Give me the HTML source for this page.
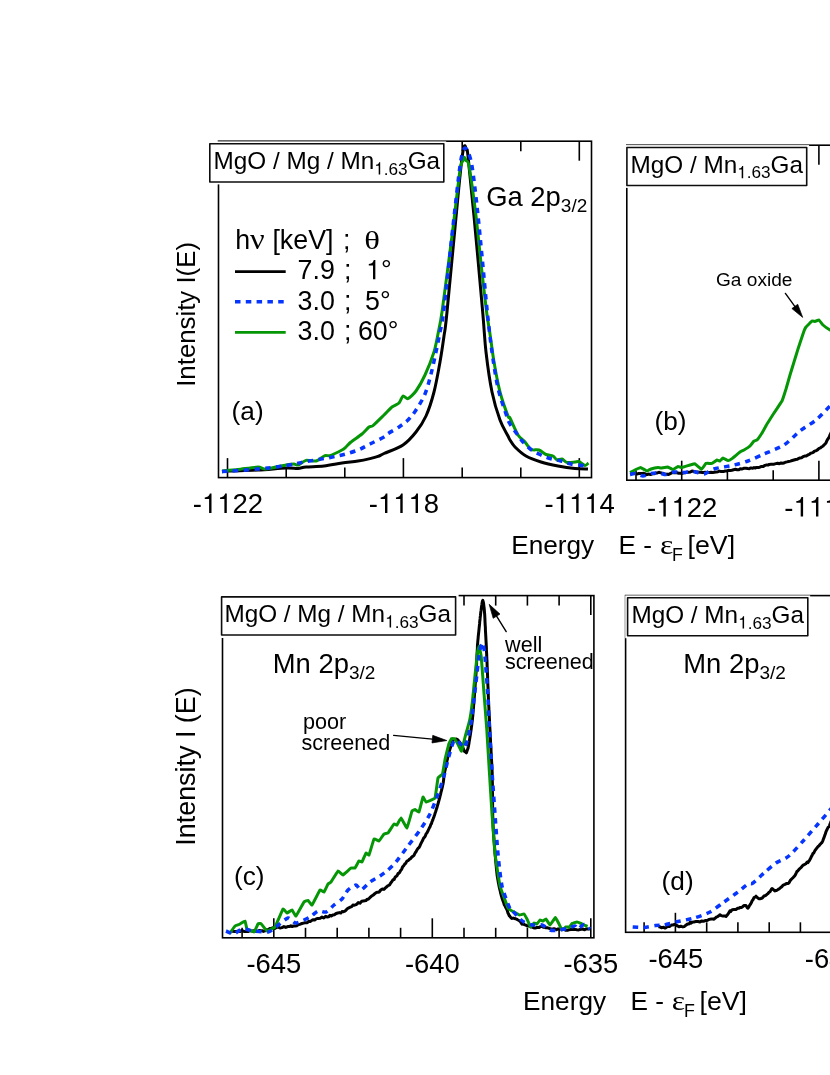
<!DOCTYPE html>
<html><head><meta charset="utf-8"><title>XPS spectra</title>
<style>
html,body{margin:0;padding:0;background:#fff;}
body{width:830px;height:1075px;overflow:hidden;}
svg{display:block;font-family:"Liberation Sans",sans-serif;fill:#000;will-change:transform;}
</style></head><body>
<svg width="830" height="1075" viewBox="0 0 830 1075">
<rect x="0" y="0" width="830" height="1075" fill="#fff"/>
<g>
<rect x="218.5" y="141.2" width="373.0" height="336.4" fill="none" stroke="#000" stroke-width="1.6"/>
<line x1="227.5" y1="141.2" x2="227.5" y2="160.7" stroke="#000" stroke-width="1.6"/>
<line x1="227.5" y1="477.6" x2="227.5" y2="458.1" stroke="#000" stroke-width="1.6"/>
<line x1="403.4" y1="141.2" x2="403.4" y2="160.7" stroke="#000" stroke-width="1.6"/>
<line x1="403.4" y1="477.6" x2="403.4" y2="458.1" stroke="#000" stroke-width="1.6"/>
<line x1="579.3" y1="141.2" x2="579.3" y2="160.7" stroke="#000" stroke-width="1.6"/>
<line x1="579.3" y1="477.6" x2="579.3" y2="458.1" stroke="#000" stroke-width="1.6"/>
<line x1="286.2" y1="141.2" x2="286.2" y2="151.2" stroke="#000" stroke-width="1.6"/>
<line x1="286.2" y1="477.6" x2="286.2" y2="467.6" stroke="#000" stroke-width="1.6"/>
<line x1="344.8" y1="141.2" x2="344.8" y2="151.2" stroke="#000" stroke-width="1.6"/>
<line x1="344.8" y1="477.6" x2="344.8" y2="467.6" stroke="#000" stroke-width="1.6"/>
<line x1="462.2" y1="141.2" x2="462.2" y2="151.2" stroke="#000" stroke-width="1.6"/>
<line x1="462.2" y1="477.6" x2="462.2" y2="467.6" stroke="#000" stroke-width="1.6"/>
<line x1="520.8" y1="141.2" x2="520.8" y2="151.2" stroke="#000" stroke-width="1.6"/>
<line x1="520.8" y1="477.6" x2="520.8" y2="467.6" stroke="#000" stroke-width="1.6"/>
<clipPath id="ca"><rect x="218.5" y="141.2" width="373.0" height="336.4"/></clipPath>
<g clip-path="url(#ca)">
<path d="M222.00,471.80 C223.00,471.67 222.00,471.30 228.00,471.00 C234.00,470.70 248.33,470.50 258.00,470.00 C267.67,469.50 279.33,468.27 286.00,468.00 C292.67,467.73 294.67,468.57 298.00,468.40 C301.33,468.23 301.67,467.40 306.00,467.00 C310.33,466.60 318.00,466.67 324.00,466.00 C330.00,465.33 336.33,463.83 342.00,463.00 C347.67,462.17 353.33,461.73 358.00,461.00 C362.67,460.27 366.67,459.37 370.00,458.60 C373.33,457.83 375.67,457.25 378.00,456.40 C380.33,455.55 379.83,455.40 384.00,453.50 C388.17,451.60 397.67,448.58 403.00,445.00 C408.33,441.42 412.17,436.83 416.00,432.00 C419.83,427.17 423.00,422.67 426.00,416.00 C429.00,409.33 431.67,401.00 434.00,392.00 C436.33,383.00 438.33,371.33 440.00,362.00 C441.67,352.67 442.83,344.33 444.00,336.00 C445.17,327.67 444.67,335.33 447.00,312.00 C449.33,288.67 455.50,221.67 458.00,196.00 C460.50,170.33 460.93,166.33 462.00,158.00 C463.07,149.67 463.65,147.33 464.40,146.00 C465.15,144.67 465.90,148.33 466.50,150.00 C467.10,151.67 466.75,145.00 468.00,156.00 C469.25,167.00 471.55,190.00 474.00,216.00 C476.45,242.00 480.70,289.33 482.70,312.00 C484.70,334.67 484.45,338.67 486.00,352.00 C487.55,365.33 489.67,380.67 492.00,392.00 C494.33,403.33 497.33,412.67 500.00,420.00 C502.67,427.33 506.33,432.67 508.00,436.00 C509.67,439.33 508.83,438.17 510.00,440.00 C511.17,441.83 512.33,444.33 515.00,447.00 C517.67,449.67 521.67,453.50 526.00,456.00 C530.33,458.50 535.67,460.33 541.00,462.00 C546.33,463.67 552.33,464.92 558.00,466.00 C563.67,467.08 570.00,468.00 575.00,468.50 C580.00,469.00 585.83,468.92 588.00,469.00" fill="none" stroke="#000" stroke-width="3.0" stroke-linejoin="round"/>
<path d="M222.00,471.00 C223.87,470.84 233.80,470.07 238.00,469.60 C242.20,469.13 254.73,467.07 258.00,467.00 C261.27,466.93 262.73,469.23 266.00,469.00 C269.27,468.77 282.73,465.58 286.00,465.00 C289.27,464.42 292.60,464.00 294.00,464.00 C295.40,464.00 296.60,465.42 298.00,465.00 C299.40,464.58 303.90,460.87 306.00,460.40 C308.10,459.93 313.78,461.56 316.00,461.00 C318.22,460.44 323.37,456.23 325.00,455.60 C326.63,454.97 328.02,456.25 330.00,455.60 C331.98,454.95 340.13,451.00 342.00,450.00 C343.87,449.00 344.95,447.93 346.00,447.00 C347.05,446.07 349.13,443.52 351.00,442.00 C352.87,440.48 359.90,435.75 362.00,434.00 C364.10,432.25 367.72,427.98 369.00,427.00 C370.28,426.02 371.25,427.00 373.00,425.60 C374.75,424.20 381.78,417.17 384.00,415.00 C386.22,412.83 390.25,408.40 392.00,407.00 C393.75,405.60 397.72,404.28 399.00,403.00 C400.28,401.72 401.95,396.51 403.00,396.00 C404.05,395.49 406.48,399.18 408.00,398.60 C409.52,398.02 414.02,393.75 416.00,391.00 C417.98,388.25 422.90,379.55 425.00,375.00 C427.10,370.45 432.48,356.78 434.00,352.00 C435.52,347.22 437.07,338.67 438.00,334.00 C438.93,329.33 440.37,323.43 442.00,312.00 C443.63,300.57 449.90,252.57 452.00,236.00 C454.10,219.43 458.72,178.81 460.00,170.00 C461.28,161.19 462.49,161.99 463.00,160.50 C463.51,159.01 464.05,157.20 464.40,157.20 C464.75,157.20 465.46,159.47 466.00,160.50 C466.54,161.53 467.83,159.53 469.00,166.00 C470.17,172.47 474.54,204.10 476.00,216.00 C477.46,227.90 480.26,256.80 481.50,268.00 C482.74,279.20 485.61,304.30 486.60,312.00 C487.59,319.70 489.14,328.17 490.00,334.00 C490.86,339.83 492.83,355.23 494.00,362.00 C495.17,368.77 498.37,385.70 500.00,392.00 C501.63,398.30 506.83,412.97 508.00,416.00 C509.17,419.03 508.83,415.78 510.00,418.00 C511.17,420.22 516.25,432.20 518.00,435.00 C519.75,437.80 523.48,440.31 525.00,442.00 C526.52,443.69 529.37,448.57 531.00,449.50 C532.63,450.43 537.25,449.42 539.00,450.00 C540.75,450.58 544.37,453.80 546.00,454.50 C547.63,455.20 551.72,455.36 553.00,456.00 C554.28,456.64 555.95,459.65 557.00,460.00 C558.05,460.35 560.83,458.71 562.00,459.00 C563.17,459.29 565.48,462.15 567.00,462.50 C568.52,462.85 573.60,462.12 575.00,462.00 C576.40,461.88 577.83,461.09 579.00,461.50 C580.17,461.91 583.89,465.32 585.00,465.50 C586.11,465.68 588.09,463.29 588.50,463.00" fill="none" stroke="#059605" stroke-width="3.0" stroke-linejoin="round"/>
<path d="M222.00,471.60 C228.00,471.17 247.33,470.00 258.00,469.00 C268.67,468.00 278.00,466.83 286.00,465.60 C294.00,464.37 299.50,462.80 306.00,461.60 C312.50,460.40 319.00,459.50 325.00,458.40 C331.00,457.30 336.50,456.40 342.00,455.00 C347.50,453.60 353.33,451.83 358.00,450.00 C362.67,448.17 365.67,446.17 370.00,444.00 C374.33,441.83 381.00,438.73 384.00,437.00 C387.00,435.27 385.50,435.27 388.00,433.60 C390.50,431.93 395.67,429.27 399.00,427.00 C402.33,424.73 405.17,422.83 408.00,420.00 C410.83,417.17 413.17,414.33 416.00,410.00 C418.83,405.67 422.50,400.00 425.00,394.00 C427.50,388.00 429.17,381.00 431.00,374.00 C432.83,367.00 434.50,359.00 436.00,352.00 C437.50,345.00 438.73,338.67 440.00,332.00 C441.27,325.33 441.43,329.67 443.60,312.00 C445.77,294.33 450.27,250.33 453.00,226.00 C455.73,201.67 458.33,178.33 460.00,166.00 C461.67,153.67 462.17,155.00 463.00,152.00 C463.83,149.00 464.17,148.00 465.00,148.00 C465.83,148.00 466.83,149.00 468.00,152.00 C469.17,155.00 470.50,157.00 472.00,166.00 C473.50,175.00 475.33,191.00 477.00,206.00 C478.67,221.00 480.28,238.33 482.00,256.00 C483.72,273.67 485.63,296.00 487.30,312.00 C488.97,328.00 490.22,339.33 492.00,352.00 C493.78,364.67 495.67,377.67 498.00,388.00 C500.33,398.33 504.00,408.00 506.00,414.00 C508.00,420.00 508.17,420.67 510.00,424.00 C511.83,427.33 514.83,431.00 517.00,434.00 C519.17,437.00 520.67,439.42 523.00,442.00 C525.33,444.58 528.17,447.42 531.00,449.50 C533.83,451.58 536.83,453.00 540.00,454.50 C543.17,456.00 546.50,457.42 550.00,458.50 C553.50,459.58 557.50,460.08 561.00,461.00 C564.50,461.92 567.33,463.25 571.00,464.00 C574.67,464.75 580.17,465.17 583.00,465.50 C585.83,465.83 587.17,465.92 588.00,466.00" fill="none" stroke="#0535ff" stroke-width="3.5" stroke-linejoin="round" stroke-dasharray="5.5 5.3"/>
</g>
<rect x="207.40" y="141.40" width="238.80" height="43.00" fill="#fff"/>
<rect x="209.80" y="143.80" width="234.00" height="38.20" fill="#fff" stroke="#0d0d0d" stroke-width="1.6" stroke-linejoin="round"/>
</g>
<rect x="626.8" y="145.2" width="273.2" height="335.0" fill="none" stroke="#000" stroke-width="1.6"/>
<line x1="681.7" y1="145.2" x2="681.7" y2="164.7" stroke="#000" stroke-width="1.6"/>
<line x1="681.7" y1="480.2" x2="681.7" y2="460.7" stroke="#000" stroke-width="1.6"/>
<line x1="818.9" y1="145.2" x2="818.9" y2="164.7" stroke="#000" stroke-width="1.6"/>
<line x1="818.9" y1="480.2" x2="818.9" y2="460.7" stroke="#000" stroke-width="1.6"/>
<line x1="636.0" y1="145.2" x2="636.0" y2="155.2" stroke="#000" stroke-width="1.6"/>
<line x1="636.0" y1="480.2" x2="636.0" y2="470.2" stroke="#000" stroke-width="1.6"/>
<line x1="727.4" y1="145.2" x2="727.4" y2="155.2" stroke="#000" stroke-width="1.6"/>
<line x1="727.4" y1="480.2" x2="727.4" y2="470.2" stroke="#000" stroke-width="1.6"/>
<line x1="773.2" y1="145.2" x2="773.2" y2="155.2" stroke="#000" stroke-width="1.6"/>
<line x1="773.2" y1="480.2" x2="773.2" y2="470.2" stroke="#000" stroke-width="1.6"/>
<polyline points="636.0,473.8 637.0,473.9 638.7,473.6 640.5,473.6 642.0,473.6 643.3,473.3 644.7,473.6 646.3,474.7 648.0,474.3 649.1,474.1 650.5,474.6 652.2,473.8 654.0,473.8 655.7,473.1 657.4,472.9 658.9,472.3 660.0,472.6 661.5,473.0 663.0,473.2 664.5,474.0 665.8,474.4 667.0,474.1 668.3,474.5 669.7,473.9 671.2,473.1 672.7,472.4 674.0,472.8 675.4,472.5 677.0,472.8 678.7,473.2 680.4,473.2 682.0,473.4 683.4,472.8 685.0,472.8 686.8,472.2 688.6,472.3 690.4,472.0 692.0,471.1 693.2,471.2 694.5,471.4 696.0,472.2 697.5,471.9 699.1,472.3 700.7,472.2 702.4,472.5 704.0,472.4 705.1,472.3 706.4,472.5 707.8,472.4 709.4,472.6 711.0,472.3 712.7,472.4 714.5,472.2 716.2,472.1 718.0,471.7 719.6,471.1 721.2,471.6 722.7,471.5 724.0,471.4 725.3,470.9 726.8,470.9 728.4,470.3 730.1,470.6 731.8,470.2 733.6,469.7 735.4,469.3 737.1,469.7 738.8,469.7 740.3,468.7 741.7,469.1 743.0,468.6 744.0,468.3 745.9,468.3 747.7,468.6 749.3,468.7 750.9,467.9 752.4,468.3 754.0,467.6 755.2,468.0 756.6,467.4 758.2,467.5 759.8,467.2 761.6,466.4 763.3,466.4 765.0,465.4 766.6,464.9 768.0,465.1 769.3,464.4 770.8,464.3 772.4,464.3 774.1,464.2 775.9,463.6 777.7,463.2 779.4,463.7 781.1,463.0 782.6,463.3 784.0,463.0 785.4,462.2 786.9,461.9 788.6,461.5 790.4,461.1 792.2,460.5 794.0,460.0 795.7,459.5 797.3,459.3 798.8,458.4 800.0,457.9 801.5,457.7 803.0,456.7 804.6,456.1 806.2,456.1 807.8,455.0 809.3,454.4 810.7,453.2 812.0,452.9 813.2,452.4 814.5,451.1 816.0,450.8 817.5,449.9 819.1,448.4 820.5,447.9 821.9,446.7 823.1,446.0 824.0,444.9 825.0,444.1 826.0,442.8 826.9,440.7 827.7,439.2 828.5,438.2 829.3,436.9 830.0,434.8 830.5,433.8 831.2,432.4 831.9,430.5 832.6,428.9 833.3,427.0 834.0,425.2 834.7,423.5 835.2,422.0 835.7,420.8 836.0,420.0" fill="none" stroke="#000" stroke-width="3.0" stroke-linejoin="round"/>
<path d="M630.00,472.50 C630.17,472.42 634.65,470.17 635.00,470.00 C635.35,469.83 640.10,467.47 640.50,467.50 C640.90,467.53 646.65,470.95 647.00,471.00 C647.35,471.05 650.63,469.12 651.00,469.00 C651.37,468.88 657.67,467.53 658.00,467.50 C658.33,467.47 660.68,468.02 661.00,468.00 C661.32,467.98 667.10,466.95 667.50,467.00 C667.90,467.05 672.65,469.52 673.00,469.50 C673.35,469.48 677.70,466.57 678.00,466.50 C678.30,466.43 681.60,467.55 682.00,467.50 C682.40,467.45 689.57,465.12 690.00,465.00 C690.43,464.88 694.62,463.66 695.00,463.80 C695.38,463.94 701.13,469.21 701.50,469.20 C701.87,469.19 705.65,463.59 706.00,463.40 C706.35,463.21 711.63,463.51 712.00,463.40 C712.37,463.29 716.73,460.08 717.00,460.00 C717.27,459.92 719.80,461.07 720.00,461.00 C720.20,460.93 722.73,458.01 723.00,458.00 C723.27,457.99 727.70,460.58 728.00,460.60 C728.30,460.62 731.60,458.89 732.00,458.60 C732.40,458.31 739.60,452.29 740.00,452.00 C740.40,451.71 743.67,450.20 744.00,450.00 C744.33,449.80 749.67,446.30 750.00,446.00 C750.33,445.70 753.77,441.20 754.00,441.00 C754.23,440.80 756.73,440.27 757.00,440.00 C757.27,439.73 761.67,433.53 762.00,433.00 C762.33,432.47 766.60,424.67 767.00,424.00 C767.40,423.33 773.50,413.77 774.00,413.00 C774.50,412.23 781.60,401.80 782.00,401.00 C782.40,400.20 785.73,389.87 786.00,389.00 C786.27,388.13 789.60,376.33 790.00,375.00 C790.40,373.67 797.53,350.47 798.00,349.00 C798.47,347.53 803.73,331.73 804.00,331.00 C804.27,330.27 805.73,327.33 806.00,327.00 C806.27,326.67 811.70,321.19 812.00,321.00 C812.30,320.81 814.77,321.43 815.00,321.40 C815.23,321.37 818.73,319.88 819.00,320.00 C819.27,320.12 822.63,324.67 823.00,325.00 C823.37,325.33 829.43,329.70 830.00,330.00 C830.57,330.30 839.67,333.87 840.00,334.00" fill="none" stroke="#059605" stroke-width="3.0" stroke-linejoin="round"/>
<path d="M630.00,474.50 C630.67,474.37 633.27,473.30 635.00,473.50 C636.73,473.70 640.87,476.00 643.00,476.00 C645.13,476.00 648.87,473.90 651.00,473.50 C653.13,473.10 657.00,472.87 659.00,473.00 C661.00,473.13 664.00,474.63 666.00,474.50 C668.00,474.37 671.87,472.27 674.00,472.00 C676.13,471.73 679.33,472.53 682.00,472.50 C684.67,472.47 691.07,471.60 694.00,471.80 C696.93,472.00 701.33,474.37 704.00,474.00 C706.67,473.63 710.00,470.20 714.00,469.00 C718.00,467.80 729.47,466.07 734.00,465.00 C738.53,463.93 744.00,462.47 748.00,461.00 C752.00,459.53 759.20,456.13 764.00,454.00 C768.80,451.87 779.20,448.07 784.00,445.00 C788.80,441.93 795.73,434.33 800.00,431.00 C804.27,427.67 812.00,423.33 816.00,420.00 C820.00,416.67 826.80,409.20 830.00,406.00 C833.20,402.80 838.67,397.33 840.00,396.00" fill="none" stroke="#0535ff" stroke-width="3.5" stroke-linejoin="round" stroke-dasharray="5.5 5.3"/>
<rect x="624.50" y="145.10" width="184.60" height="42.80" fill="#fff"/>
<rect x="626.90" y="147.50" width="179.80" height="38.00" fill="#fff" stroke="#0d0d0d" stroke-width="1.6" stroke-linejoin="round"/>
<rect x="222.5" y="595.6" width="371.4" height="342.2" fill="none" stroke="#000" stroke-width="1.6"/>
<line x1="273.8" y1="595.6" x2="273.8" y2="615.1" stroke="#000" stroke-width="1.6"/>
<line x1="273.8" y1="937.8" x2="273.8" y2="918.3" stroke="#000" stroke-width="1.6"/>
<line x1="432.3" y1="595.6" x2="432.3" y2="615.1" stroke="#000" stroke-width="1.6"/>
<line x1="432.3" y1="937.8" x2="432.3" y2="918.3" stroke="#000" stroke-width="1.6"/>
<line x1="590.8" y1="595.6" x2="590.8" y2="615.1" stroke="#000" stroke-width="1.6"/>
<line x1="590.8" y1="937.8" x2="590.8" y2="918.3" stroke="#000" stroke-width="1.6"/>
<line x1="242.1" y1="595.6" x2="242.1" y2="605.6" stroke="#000" stroke-width="1.6"/>
<line x1="242.1" y1="937.8" x2="242.1" y2="927.8" stroke="#000" stroke-width="1.6"/>
<line x1="305.5" y1="595.6" x2="305.5" y2="605.6" stroke="#000" stroke-width="1.6"/>
<line x1="305.5" y1="937.8" x2="305.5" y2="927.8" stroke="#000" stroke-width="1.6"/>
<line x1="337.2" y1="595.6" x2="337.2" y2="605.6" stroke="#000" stroke-width="1.6"/>
<line x1="337.2" y1="937.8" x2="337.2" y2="927.8" stroke="#000" stroke-width="1.6"/>
<line x1="368.9" y1="595.6" x2="368.9" y2="605.6" stroke="#000" stroke-width="1.6"/>
<line x1="368.9" y1="937.8" x2="368.9" y2="927.8" stroke="#000" stroke-width="1.6"/>
<line x1="400.6" y1="595.6" x2="400.6" y2="605.6" stroke="#000" stroke-width="1.6"/>
<line x1="400.6" y1="937.8" x2="400.6" y2="927.8" stroke="#000" stroke-width="1.6"/>
<line x1="464.0" y1="595.6" x2="464.0" y2="605.6" stroke="#000" stroke-width="1.6"/>
<line x1="464.0" y1="937.8" x2="464.0" y2="927.8" stroke="#000" stroke-width="1.6"/>
<line x1="495.7" y1="595.6" x2="495.7" y2="605.6" stroke="#000" stroke-width="1.6"/>
<line x1="495.7" y1="937.8" x2="495.7" y2="927.8" stroke="#000" stroke-width="1.6"/>
<line x1="527.4" y1="595.6" x2="527.4" y2="605.6" stroke="#000" stroke-width="1.6"/>
<line x1="527.4" y1="937.8" x2="527.4" y2="927.8" stroke="#000" stroke-width="1.6"/>
<line x1="559.1" y1="595.6" x2="559.1" y2="605.6" stroke="#000" stroke-width="1.6"/>
<line x1="559.1" y1="937.8" x2="559.1" y2="927.8" stroke="#000" stroke-width="1.6"/>
<polyline points="232.0,931.2 232.9,931.3 234.3,931.4 236.1,931.6 238.1,931.3 240.1,931.6 242.0,930.3 243.1,931.0 244.4,931.6 246.1,931.3 247.9,931.6 249.9,930.6 251.9,931.1 254.0,930.8 255.9,931.2 257.8,931.3 259.5,930.4 260.9,930.7 262.0,930.7 263.4,931.4 265.0,930.8 266.5,929.6 268.1,930.0 269.6,928.6 271.2,928.8 272.6,927.8 274.0,927.3 275.1,928.4 276.5,927.3 278.2,927.1 280.0,928.0 281.9,927.6 283.9,926.6 285.8,927.4 287.7,926.6 289.4,926.6 290.8,925.8 292.0,926.6 293.4,926.0 294.9,926.1 296.7,925.7 298.5,924.5 300.2,924.2 302.0,923.5 303.5,923.1 304.9,922.7 306.0,922.7 307.3,922.7 308.7,921.3 310.2,921.6 311.8,920.4 313.3,919.7 314.7,919.9 316.0,919.0 317.1,918.5 318.5,918.4 320.2,918.3 322.0,917.1 323.8,918.0 325.6,916.3 327.3,917.0 328.8,916.8 330.0,915.3 331.3,916.0 332.8,915.0 334.4,914.8 336.1,913.5 337.8,913.0 339.4,912.6 340.8,913.1 342.0,911.6 343.1,911.8 344.3,911.4 345.7,910.5 347.2,908.8 348.8,907.9 350.3,907.2 351.7,906.7 352.9,905.0 354.0,905.3 355.2,904.9 356.7,904.3 358.3,902.6 360.0,903.2 361.7,901.3 363.3,901.0 364.8,900.7 366.0,900.6 367.1,899.2 368.3,899.2 369.8,897.7 371.3,896.3 372.9,895.3 374.4,894.0 375.8,892.9 377.0,892.2 378.0,892.3 379.2,892.0 380.7,890.0 382.3,889.0 383.9,889.4 385.4,887.9 386.8,886.8 388.0,885.6 388.8,885.4 389.7,884.7 390.7,883.0 391.9,881.6 393.0,879.7 394.1,879.5 395.3,876.9 396.3,876.2 397.2,875.5 398.0,873.5 398.7,873.4 399.6,872.5 400.5,870.7 401.6,869.4 402.6,866.9 403.7,865.8 404.8,863.9 405.7,863.5 406.6,861.5 407.4,860.7 408.0,860.7 409.2,859.4 410.4,858.7 411.6,857.2 412.8,856.3 414.0,855.3 414.5,854.2 415.2,852.8 416.1,851.7 417.0,849.8 417.9,848.5 418.9,847.7 419.9,845.9 420.9,843.7 421.8,841.9 422.7,840.2 423.4,838.5 424.0,837.7 424.6,837.2 425.3,836.0 426.1,833.9 426.9,832.9 427.8,831.3 428.6,829.5 429.4,827.8 430.2,826.4 430.9,824.3 431.5,823.5 432.0,821.7 432.4,820.9 432.9,819.6 433.4,818.1 434.0,816.6 434.6,814.9 435.1,813.2 435.7,811.5 436.2,809.8 436.8,808.1 437.2,806.6 437.6,805.2 438.0,804.0 438.3,802.8 438.7,801.5 439.1,799.9 439.6,798.2 440.0,796.4 440.5,794.6 440.9,792.7 441.4,790.9 441.8,789.2 442.2,787.6 442.5,786.2 442.8,785.0 443.0,784.0 443.3,782.3 443.5,780.7 443.7,779.0 443.8,777.4 444.0,775.8 444.3,774.0 444.5,773.0 444.7,771.7 445.1,770.2 445.4,768.4 445.8,766.6 446.2,764.6 446.6,762.6 447.0,760.7 447.5,758.8 447.8,757.0 448.2,755.4 448.5,754.1 448.8,753.0 449.3,751.4 449.8,749.6 450.4,747.7 451.1,745.8 451.7,744.0 452.3,742.6 452.8,740.6 453.3,740.4 454.7,739.2 456.4,739.1 457.8,739.9 458.6,741.0 459.6,742.1 460.7,743.7 461.7,744.9 462.4,746.7 463.1,747.9 463.8,750.0 464.5,751.4 465.1,751.7 466.4,752.8 467.8,748.7 468.0,748.7 468.1,747.7 468.4,746.6 468.6,745.3 468.9,743.8 469.1,742.2 469.4,740.5 469.7,738.7 470.0,736.8 470.3,734.9 470.6,733.0 470.9,731.0 471.2,729.1 471.4,727.2 471.7,725.4 471.9,723.6 472.1,722.0 472.3,720.5 472.4,719.5 472.5,718.4 472.6,717.1 472.8,715.7 472.9,714.3 473.0,712.7 473.2,711.1 473.3,709.3 473.5,707.6 473.6,705.7 473.8,703.8 473.9,701.9 474.1,700.0 474.2,698.1 474.4,696.1 474.5,694.2 474.7,692.3 474.8,690.4 474.9,688.5 475.1,686.7 475.2,685.0 475.3,683.3 475.4,681.7 475.6,680.2 475.7,678.8 475.7,677.5 475.8,676.3 475.9,675.3 476.0,673.9 476.1,672.4 476.2,670.8 476.3,669.1 476.4,667.4 476.5,665.6 476.6,663.8 476.6,662.0 476.7,660.2 476.8,658.3 476.9,656.5 477.0,654.7 477.1,653.0 477.2,651.3 477.3,649.6 477.4,648.1 477.4,646.6 477.5,645.2 477.6,643.9 477.7,642.8 477.8,641.5 477.9,640.1 478.1,638.5 478.2,636.8 478.4,635.0 478.6,633.2 478.8,631.3 479.0,629.4 479.2,627.4 479.4,625.5 479.6,623.7 479.7,621.9 479.9,620.2 480.1,618.7 480.2,617.2 480.4,616.0 480.5,614.9 480.6,614.0 480.8,612.1 481.1,610.2 481.3,608.4 481.5,606.9 481.7,605.5 481.9,604.3 482.0,603.5 482.4,601.2 482.8,600.4 483.2,601.7 483.6,603.5 483.7,604.6 483.9,606.1 484.1,607.8 484.3,609.6 484.4,611.0 484.5,612.1 484.6,613.3 484.7,614.7 484.8,616.5 484.9,618.5 485.0,621.0 485.0,621.8 485.1,622.8 485.1,623.9 485.2,625.1 485.3,626.5 485.4,628.0 485.4,629.6 485.5,631.3 485.6,633.0 485.7,634.8 485.8,636.7 485.9,638.6 486.0,640.5 486.1,642.4 486.2,644.2 486.3,646.1 486.4,647.9 486.4,649.7 486.5,651.4 486.6,653.0 486.7,654.6 486.7,656.0 486.8,657.3 486.8,658.4 486.9,659.6 487.0,660.9 487.0,662.3 487.1,663.8 487.1,665.4 487.2,667.0 487.3,668.7 487.3,670.5 487.4,672.3 487.5,674.2 487.6,676.1 487.6,677.9 487.7,679.9 487.8,681.8 487.8,683.7 487.9,685.5 488.0,687.4 488.1,689.2 488.1,691.0 488.2,692.7 488.3,694.3 488.3,695.9 488.4,697.4 488.4,698.8 488.5,700.1 488.6,701.3 488.6,702.4 488.7,703.7 488.7,705.1 488.8,706.5 488.9,708.1 488.9,709.7 489.0,711.3 489.1,713.0 489.2,714.7 489.3,716.5 489.4,718.3 489.5,720.0 489.5,721.8 489.6,723.6 489.7,725.3 489.8,727.0 489.9,728.7 490.0,730.4 490.1,731.9 490.1,733.4 490.2,734.9 490.3,736.2 490.3,737.5 490.4,738.6 490.5,739.8 490.5,741.1 490.6,742.5 490.7,743.9 490.8,745.5 490.9,747.1 491.0,748.7 491.0,750.4 491.1,752.1 491.2,753.9 491.3,755.7 491.4,757.5 491.5,759.3 491.6,761.1 491.7,762.8 491.8,764.6 491.9,766.3 492.0,768.0 492.0,769.6 492.1,771.1 492.2,772.6 492.2,774.0 492.2,775.0 492.3,776.1 492.3,777.4 492.3,778.7 492.3,780.1 492.3,781.6 492.4,783.2 492.4,784.8 492.4,786.5 492.4,788.2 492.4,790.0 492.4,791.8 492.5,793.7 492.5,795.5 492.5,797.4 492.5,799.3 492.5,801.2 492.6,803.1 492.6,805.0 492.6,806.8 492.6,808.7 492.6,810.5 492.7,812.2 492.7,813.9 492.7,815.6 492.8,817.2 492.8,818.7 492.9,820.2 492.9,821.5 492.9,822.8 493.0,824.0 493.1,825.2 493.1,826.5 493.2,827.9 493.3,829.3 493.4,830.9 493.5,832.5 493.6,834.2 493.7,836.0 493.9,837.8 494.0,839.6 494.1,841.5 494.3,843.4 494.4,845.3 494.6,847.2 494.7,849.2 494.9,851.1 495.0,853.0 495.2,854.9 495.4,856.8 495.5,858.6 495.7,860.4 495.8,862.1 496.0,863.8 496.1,865.4 496.3,866.9 496.4,868.3 496.5,869.7 496.7,870.9 496.8,872.1 496.9,873.1 497.0,874.0 497.2,875.7 497.5,877.5 497.8,879.3 498.1,881.1 498.4,882.9 498.8,884.7 499.1,886.5 499.5,888.2 499.9,889.9 500.3,891.5 500.6,893.0 501.0,894.4 501.3,895.7 501.7,896.9 502.0,898.0 502.4,899.3 502.9,900.7 503.6,902.3 504.2,904.7 505.0,905.8 505.7,907.4 506.5,908.8 507.3,910.5 508.0,913.2 508.6,914.1 509.2,915.9 509.7,915.7 510.0,916.6 511.1,917.9 512.0,918.4 513.4,918.1 515.4,918.7 517.0,919.4 518.0,920.0 519.3,920.7 520.6,921.9 522.0,924.2 523.0,923.5 524.3,924.6 525.9,925.2 527.6,926.1 529.3,926.1 530.8,926.9 532.0,927.0 533.4,927.7 535.1,928.1 536.9,927.5 538.8,927.6 540.5,926.6 542.0,926.3 543.1,927.2 544.5,927.3 546.0,927.7 547.7,927.8 549.3,928.4 551.0,928.9 552.6,929.4 554.0,928.7 555.1,929.0 556.5,929.7 558.1,928.9 559.9,928.9 561.8,929.3 563.7,929.1 565.6,930.2 567.5,930.3 569.2,929.7 570.7,929.5 572.0,929.4 573.3,929.6 574.9,929.4 576.8,929.8 578.7,929.9 580.8,929.3 582.8,929.0 584.7,929.8 586.5,928.8 588.0,928.9 589.2,928.9 590.0,929.0" fill="none" stroke="#000" stroke-width="3.0" stroke-linejoin="round"/>
<path d="M230.00,933.00 C230.17,932.77 234.67,926.30 235.00,926.00 C235.33,925.70 239.67,924.17 240.00,924.00 C240.33,923.83 244.77,920.83 245.00,921.00 C245.23,921.17 246.70,928.63 247.00,929.00 C247.30,929.37 253.63,932.17 254.00,932.00 C254.37,931.83 257.77,924.28 258.00,924.00 C258.23,923.72 260.70,923.37 261.00,923.60 C261.30,923.83 266.53,930.89 267.00,931.00 C267.47,931.11 274.47,927.73 275.00,927.00 C275.53,926.27 282.60,909.47 283.00,909.00 C283.40,908.53 286.70,912.97 287.00,913.00 C287.30,913.03 291.70,909.90 292.00,910.00 C292.30,910.10 295.60,916.27 296.00,916.00 C296.40,915.73 303.60,902.52 304.00,902.00 C304.40,901.48 307.73,900.30 308.00,900.40 C308.27,900.50 311.60,905.35 312.00,905.00 C312.40,904.65 319.60,890.43 320.00,890.00 C320.40,889.57 323.73,892.20 324.00,892.00 C324.27,891.80 327.77,884.33 328.00,884.00 C328.23,883.67 330.67,882.43 331.00,882.00 C331.33,881.57 337.60,871.23 338.00,871.00 C338.40,870.77 342.57,875.10 343.00,875.00 C343.43,874.90 350.60,868.23 351.00,868.00 C351.40,867.77 354.73,868.23 355.00,868.00 C355.27,867.77 358.77,861.20 359.00,861.00 C359.23,860.80 361.77,862.27 362.00,862.00 C362.23,861.73 365.77,853.23 366.00,853.00 C366.23,852.77 368.73,855.47 369.00,855.00 C369.27,854.53 373.67,839.47 374.00,839.00 C374.33,838.53 378.67,841.17 379.00,841.00 C379.33,840.83 383.70,834.27 384.00,834.00 C384.30,833.73 387.67,833.33 388.00,833.00 C388.33,832.67 393.70,824.27 394.00,824.00 C394.30,823.73 396.77,825.20 397.00,825.00 C397.23,824.80 400.67,817.90 401.00,818.00 C401.33,818.10 406.63,828.23 407.00,828.00 C407.37,827.77 411.73,811.61 412.00,811.00 C412.27,810.39 414.77,809.57 415.00,809.60 C415.23,809.63 418.73,812.42 419.00,812.00 C419.27,811.58 422.77,797.33 423.00,797.00 C423.23,796.67 425.60,801.97 426.00,802.00 C426.40,802.03 434.60,798.80 435.00,798.00 C435.40,797.20 437.75,778.80 438.00,778.00 C438.25,777.20 442.26,774.65 442.50,774.00 C442.74,773.35 444.99,759.50 445.20,758.50 C445.41,757.50 448.59,744.66 448.80,744.00 C449.01,743.34 451.32,738.78 451.50,738.60 C451.68,738.42 453.99,738.42 454.20,738.60 C454.41,738.78 457.56,743.58 457.80,744.00 C458.04,744.42 461.26,751.44 461.50,751.20 C461.74,750.96 464.83,737.82 465.10,736.80 C465.37,735.78 469.36,721.65 469.60,720.50 C469.84,719.35 472.12,703.91 472.30,702.40 C472.48,700.89 474.83,676.98 475.00,675.30 C475.17,673.62 477.36,652.96 477.50,652.00 C477.64,651.04 479.07,646.22 479.20,646.40 C479.33,646.58 481.14,655.73 481.30,657.30 C481.46,658.87 483.82,690.99 484.00,693.40 C484.18,695.81 486.62,726.91 486.80,729.60 C486.98,732.29 489.33,771.19 489.50,774.00 C489.67,776.81 491.82,811.33 492.00,814.00 C492.18,816.67 494.73,851.60 495.00,854.00 C495.27,856.40 499.57,884.20 500.00,886.00 C500.43,887.80 507.60,907.17 508.00,908.00 C508.40,908.83 511.73,910.83 512.00,911.00 C512.27,911.17 515.75,912.87 516.00,913.00 C516.25,913.13 519.23,914.97 519.50,915.00 C519.77,915.03 523.75,913.87 524.00,914.00 C524.25,914.13 526.78,918.57 527.00,919.00 C527.22,919.43 530.27,926.87 530.50,927.00 C530.73,927.13 533.78,923.10 534.00,923.00 C534.22,922.90 536.80,924.10 537.00,924.00 C537.20,923.90 539.80,920.10 540.00,920.00 C540.20,919.90 542.80,921.03 543.00,921.00 C543.20,920.97 545.77,918.87 546.00,919.00 C546.23,919.13 549.68,925.05 550.00,925.00 C550.32,924.95 555.22,917.57 555.50,917.50 C555.78,917.43 558.28,922.58 558.50,923.00 C558.72,923.42 561.75,929.87 562.00,930.00 C562.25,930.13 565.75,927.10 566.00,927.00 C566.25,926.90 569.30,927.12 569.50,927.00 C569.70,926.88 571.75,923.67 572.00,923.50 C572.25,923.33 576.70,922.00 577.00,922.00 C577.30,922.00 580.77,923.40 581.00,923.50 C581.23,923.60 583.78,924.90 584.00,925.00 C584.22,925.10 587.38,926.45 587.50,926.50" fill="none" stroke="#059605" stroke-width="3.0" stroke-linejoin="round"/>
<path d="M226.00,931.00 C226.93,931.35 232.13,934.23 234.00,934.00 C235.87,933.77 239.67,929.35 242.00,929.00 C244.33,928.65 250.97,930.65 254.00,931.00 C257.03,931.35 265.43,932.47 268.00,932.00 C270.57,931.53 273.67,928.63 276.00,927.00 C278.33,925.37 285.67,918.47 288.00,918.00 C290.33,917.53 293.43,923.12 296.00,923.00 C298.57,922.88 307.43,918.40 310.00,917.00 C312.57,915.60 316.13,911.58 318.00,911.00 C319.87,910.42 324.13,912.70 326.00,912.00 C327.87,911.30 332.13,906.52 334.00,905.00 C335.87,903.48 340.37,900.75 342.00,899.00 C343.63,897.25 346.37,891.63 348.00,890.00 C349.63,888.37 354.48,885.00 356.00,885.00 C357.52,885.00 359.37,890.35 361.00,890.00 C362.63,889.65 367.78,883.63 370.00,882.00 C372.22,880.37 377.90,877.40 380.00,876.00 C382.10,874.60 386.13,871.63 388.00,870.00 C389.87,868.37 393.67,864.80 396.00,862.00 C398.33,859.20 405.20,849.73 408.00,846.00 C410.80,842.27 417.43,833.73 420.00,830.00 C422.57,826.27 427.90,818.20 430.00,814.00 C432.10,809.80 436.37,798.43 438.00,794.00 C439.63,789.57 443.16,778.68 444.00,776.00 C444.84,773.32 444.64,773.25 445.20,771.00 C445.76,768.75 447.86,760.06 448.80,756.70 C449.75,753.34 452.36,744.10 453.30,742.20 C454.25,740.30 456.06,740.19 456.90,740.40 C457.74,740.61 459.65,743.16 460.50,744.00 C461.35,744.84 463.35,748.23 464.20,747.60 C465.05,746.97 466.96,741.76 467.80,738.60 C468.64,735.44 470.66,725.14 471.40,720.50 C472.13,715.86 473.47,704.07 474.10,698.80 C474.73,693.53 476.17,680.78 476.80,675.30 C477.43,669.82 478.80,655.59 479.50,651.80 C480.20,648.01 482.16,642.16 482.80,642.80 C483.44,643.44 484.43,651.40 485.00,657.30 C485.57,663.20 487.18,684.96 487.70,693.40 C488.22,701.84 488.98,720.20 489.50,729.60 C490.02,739.00 491.56,764.15 492.20,774.00 C492.84,783.85 494.32,804.67 495.00,814.00 C495.68,823.33 497.18,845.60 498.00,854.00 C498.82,862.40 500.60,879.58 502.00,886.00 C503.40,892.42 508.83,906.20 510.00,909.00 C511.17,911.80 511.07,909.07 512.00,910.00 C512.93,910.93 516.60,915.60 518.00,917.00 C519.40,918.40 522.37,921.07 524.00,922.00 C525.63,922.93 529.90,924.65 532.00,925.00 C534.10,925.35 539.90,924.42 542.00,925.00 C544.10,925.58 548.37,929.36 550.00,930.00 C551.63,930.64 554.02,930.67 556.00,930.50 C557.98,930.33 564.78,929.02 567.00,928.50 C569.22,927.98 573.72,925.94 575.00,926.00 C576.28,926.06 576.95,929.17 578.00,929.00 C579.05,928.83 582.60,924.50 584.00,924.50 C585.40,924.50 589.30,928.48 590.00,929.00" fill="none" stroke="#0535ff" stroke-width="3.5" stroke-linejoin="round" stroke-dasharray="5.5 5.3"/>
<rect x="218.60" y="593.90" width="240.00" height="44.10" fill="#fff"/>
<rect x="221.60" y="596.90" width="234.00" height="38.10" fill="#fff" stroke="#0d0d0d" stroke-width="1.6" stroke-linejoin="round"/>
<rect x="625.6" y="595.6" width="274.4" height="336.7" fill="none" stroke="#000" stroke-width="1.6"/>
<line x1="675.4" y1="595.6" x2="675.4" y2="615.1" stroke="#000" stroke-width="1.6"/>
<line x1="675.4" y1="932.3" x2="675.4" y2="912.8" stroke="#000" stroke-width="1.6"/>
<line x1="831.7" y1="595.6" x2="831.7" y2="615.1" stroke="#000" stroke-width="1.6"/>
<line x1="831.7" y1="932.3" x2="831.7" y2="912.8" stroke="#000" stroke-width="1.6"/>
<line x1="644.1" y1="595.6" x2="644.1" y2="605.6" stroke="#000" stroke-width="1.6"/>
<line x1="644.1" y1="932.3" x2="644.1" y2="922.3" stroke="#000" stroke-width="1.6"/>
<line x1="706.7" y1="595.6" x2="706.7" y2="605.6" stroke="#000" stroke-width="1.6"/>
<line x1="706.7" y1="932.3" x2="706.7" y2="922.3" stroke="#000" stroke-width="1.6"/>
<line x1="737.9" y1="595.6" x2="737.9" y2="605.6" stroke="#000" stroke-width="1.6"/>
<line x1="737.9" y1="932.3" x2="737.9" y2="922.3" stroke="#000" stroke-width="1.6"/>
<line x1="769.2" y1="595.6" x2="769.2" y2="605.6" stroke="#000" stroke-width="1.6"/>
<line x1="769.2" y1="932.3" x2="769.2" y2="922.3" stroke="#000" stroke-width="1.6"/>
<line x1="800.4" y1="595.6" x2="800.4" y2="605.6" stroke="#000" stroke-width="1.6"/>
<line x1="800.4" y1="932.3" x2="800.4" y2="922.3" stroke="#000" stroke-width="1.6"/>
<polyline points="658.2,926.7 659.3,926.6 661.4,927.7 663.6,927.3 665.0,928.1 666.0,927.6 667.5,926.6 669.5,926.5 671.4,925.1 673.0,925.1 674.0,924.4 675.2,924.6 677.0,925.6 679.0,926.8 680.9,926.3 682.0,926.6 682.9,926.9 684.2,926.6 685.9,925.2 687.5,924.0 689.0,924.1 690.0,922.4 690.8,923.3 692.2,922.3 693.9,921.9 695.9,921.6 698.0,921.5 700.0,922.0 701.8,920.9 703.1,921.2 704.0,921.2 705.2,920.6 707.1,920.5 709.2,919.4 711.3,919.0 713.0,918.9 714.0,919.3 715.0,918.3 716.3,917.2 717.8,916.5 719.2,915.4 720.0,914.7 721.2,915.6 723.0,916.0 724.9,915.9 726.0,916.5 726.8,915.6 727.9,914.3 729.1,912.4 730.0,910.7 730.8,911.4 732.2,909.7 734.0,909.6 735.9,909.5 737.7,908.2 739.2,908.2 740.0,907.4 741.1,907.6 742.7,906.7 744.1,905.5 745.0,905.5 745.9,905.6 747.1,907.6 748.0,908.1 748.5,907.4 749.5,905.6 750.5,904.2 751.4,902.6 752.0,901.0 752.8,900.1 754.0,897.6 755.2,897.0 756.0,896.2 757.1,897.4 758.7,898.7 760.0,898.7 760.8,898.5 762.3,898.0 764.0,896.0 765.7,895.5 767.2,894.1 768.0,893.5 768.9,892.3 770.1,891.7 771.3,889.3 772.0,888.6 773.1,889.3 774.8,891.0 776.0,890.4 776.8,890.4 778.2,889.4 779.7,888.5 781.1,887.2 782.0,886.5 783.2,885.1 785.0,884.4 786.8,883.4 788.0,883.5 788.9,882.9 790.3,880.4 791.9,878.8 793.2,877.5 794.0,876.6 794.6,876.0 795.5,874.6 796.4,872.7 797.0,871.3 797.7,871.0 798.8,869.6 800.1,868.3 801.2,867.4 802.0,866.3 802.8,865.4 804.2,864.7 805.8,863.8 807.2,862.0 808.0,862.6 808.6,861.6 809.5,860.3 810.5,858.5 811.6,856.2 812.4,854.7 813.0,853.4 813.7,853.1 814.9,850.7 816.2,848.9 817.3,847.5 818.0,846.5 818.8,846.0 820.0,844.5 821.2,843.2 822.0,842.5 822.4,841.6 822.9,840.6 823.6,838.6 824.4,836.5 825.1,834.6 825.6,833.0 826.0,831.7 826.4,830.8 827.1,829.5 828.0,827.5 828.8,826.9 829.5,825.7 830.0,824.0 830.4,823.1 831.2,821.1 832.1,819.3 833.1,817.6 834.1,815.5 835.0,814.5 835.7,812.2 836.0,811.3" fill="none" stroke="#000" stroke-width="3.0" stroke-linejoin="round"/>
<path d="M632.70,926.90 C634.25,926.97 641.27,927.59 644.30,927.40 C647.33,927.21 652.77,925.82 655.40,925.50 C658.03,925.18 661.25,925.47 664.00,925.00 C666.75,924.53 672.00,922.93 676.00,922.00 C680.00,921.07 689.47,919.33 694.00,918.00 C698.53,916.67 706.00,914.13 710.00,912.00 C714.00,909.87 720.27,904.67 724.00,902.00 C727.73,899.33 734.80,894.40 738.00,892.00 C741.20,889.60 746.00,885.20 748.00,884.00 C750.00,882.80 750.87,884.47 753.00,883.00 C755.13,881.53 760.93,875.67 764.00,873.00 C767.07,870.33 773.07,865.00 776.00,863.00 C778.93,861.00 783.87,859.33 786.00,858.00 C788.13,856.67 789.60,855.40 792.00,853.00 C794.40,850.60 800.53,843.87 804.00,840.00 C807.47,836.13 814.53,828.00 818.00,824.00 C821.47,820.00 827.07,813.47 830.00,810.00 C832.93,806.53 838.67,799.60 840.00,798.00" fill="none" stroke="#0535ff" stroke-width="3.5" stroke-linejoin="round" stroke-dasharray="5.5 5.3"/>
<rect x="625.20" y="595.40" width="185.00" height="42.80" fill="#fff"/>
<rect x="627.60" y="597.80" width="180.20" height="38.00" fill="#fff" stroke="#0d0d0d" stroke-width="1.6" stroke-linejoin="round"/>
<text x="213.5" y="169.1" font-size="24.3" text-anchor="start">MgO / Mg / Mn</text>
<path d="M378.70,174.60 L378.70,165.86 L375.98,165.86 L375.98,164.83 C377.12,164.76 377.89,164.45 378.41,163.85 C378.75,163.45 379.03,162.90 379.20,162.35 L380.20,162.35 L380.20,174.60 Z" fill="#000"/>
<text x="383.76" y="174.6" font-size="17.2" xml:space="preserve">.63</text>
<text x="407.7" y="169.1" font-size="24.3" text-anchor="start">Ga</text>
<text x="630.5" y="172.8" font-size="24.3" text-anchor="start">MgO / Mn</text>
<path d="M741.68,178.30 L741.68,169.56 L738.97,169.56 L738.97,168.53 C740.10,168.46 740.88,168.15 741.39,167.55 C741.74,167.15 742.01,166.60 742.18,166.05 L743.18,166.05 L743.18,178.30 Z" fill="#000"/>
<text x="746.74" y="178.3" font-size="17.2" xml:space="preserve">.63</text>
<text x="770.6" y="172.8" font-size="24.3" text-anchor="start">Ga</text>
<text x="224.4" y="622.0" font-size="24.3" text-anchor="start">MgO / Mg / Mn</text>
<path d="M389.60,627.50 L389.60,618.76 L386.88,618.76 L386.88,617.73 C388.02,617.66 388.79,617.35 389.31,616.75 C389.65,616.35 389.93,615.80 390.10,615.25 L391.10,615.25 L391.10,627.50 Z" fill="#000"/>
<text x="394.66" y="627.5" font-size="17.2" xml:space="preserve">.63</text>
<text x="418.6" y="622.0" font-size="24.3" text-anchor="start">Ga</text>
<text x="631.4" y="623.0" font-size="24.3" text-anchor="start">MgO / Mn</text>
<path d="M742.58,628.50 L742.58,619.76 L739.87,619.76 L739.87,618.73 C741.00,618.66 741.77,618.35 742.29,617.75 C742.63,617.35 742.91,616.80 743.08,616.25 L744.08,616.25 L744.08,628.50 Z" fill="#000"/>
<text x="747.64" y="628.5" font-size="17.2" xml:space="preserve">.63</text>
<text x="771.5" y="623.0" font-size="24.3" text-anchor="start">Ga</text>
<text x="192.74" y="513.0" font-size="27.5" xml:space="preserve">-</text>
<path d="M209.10,513.00 L209.10,499.03 L204.76,499.03 L204.76,497.38 C206.57,497.27 207.81,496.77 208.64,495.81 C209.19,495.18 209.63,494.30 209.90,493.42 L211.50,493.42 L211.50,513.00 Z" fill="#000"/>
<path d="M224.39,513.00 L224.39,499.03 L220.05,499.03 L220.05,497.38 C221.86,497.27 223.10,496.77 223.93,495.81 C224.48,495.18 224.92,494.30 225.19,493.42 L226.79,493.42 L226.79,513.00 Z" fill="#000"/>
<text x="232.48" y="513.0" font-size="27.5" xml:space="preserve">22</text>
<text x="368.64" y="513.0" font-size="27.5" xml:space="preserve">-</text>
<path d="M385.00,513.00 L385.00,499.03 L380.66,499.03 L380.66,497.38 C382.47,497.27 383.71,496.77 384.54,495.81 C385.09,495.18 385.53,494.30 385.80,493.42 L387.40,493.42 L387.40,513.00 Z" fill="#000"/>
<path d="M400.29,513.00 L400.29,499.03 L395.95,499.03 L395.95,497.38 C397.76,497.27 399.00,496.77 399.83,495.81 C400.38,495.18 400.82,494.30 401.09,493.42 L402.69,493.42 L402.69,513.00 Z" fill="#000"/>
<path d="M415.58,513.00 L415.58,499.03 L411.24,499.03 L411.24,497.38 C413.05,497.27 414.29,496.77 415.12,495.81 C415.67,495.18 416.11,494.30 416.38,493.42 L417.98,493.42 L417.98,513.00 Z" fill="#000"/>
<text x="423.67" y="513.0" font-size="27.5" xml:space="preserve">8</text>
<text x="544.54" y="513.0" font-size="27.5" xml:space="preserve">-</text>
<path d="M560.90,513.00 L560.90,499.03 L556.56,499.03 L556.56,497.38 C558.37,497.27 559.61,496.77 560.44,495.81 C560.99,495.18 561.43,494.30 561.70,493.42 L563.30,493.42 L563.30,513.00 Z" fill="#000"/>
<path d="M576.19,513.00 L576.19,499.03 L571.85,499.03 L571.85,497.38 C573.66,497.27 574.90,496.77 575.73,495.81 C576.28,495.18 576.72,494.30 576.99,493.42 L578.59,493.42 L578.59,513.00 Z" fill="#000"/>
<path d="M591.48,513.00 L591.48,499.03 L587.14,499.03 L587.14,497.38 C588.95,497.27 590.19,496.77 591.02,495.81 C591.57,495.18 592.01,494.30 592.28,493.42 L593.88,493.42 L593.88,513.00 Z" fill="#000"/>
<text x="599.57" y="513.0" font-size="27.5" xml:space="preserve">4</text>
<text x="647.04" y="516.6" font-size="27.5" xml:space="preserve">-</text>
<path d="M663.40,516.60 L663.40,502.63 L659.06,502.63 L659.06,500.98 C660.87,500.87 662.11,500.38 662.94,499.41 C663.49,498.78 663.93,497.90 664.20,497.02 L665.80,497.02 L665.80,516.60 Z" fill="#000"/>
<path d="M678.69,516.60 L678.69,502.63 L674.35,502.63 L674.35,500.98 C676.16,500.87 677.40,500.38 678.23,499.41 C678.78,498.78 679.22,497.90 679.49,497.02 L681.09,497.02 L681.09,516.60 Z" fill="#000"/>
<text x="686.78" y="516.6" font-size="27.5" xml:space="preserve">22</text>
<text x="784.34" y="516.6" font-size="27.5" xml:space="preserve">-</text>
<path d="M800.70,516.60 L800.70,502.63 L796.36,502.63 L796.36,500.98 C798.17,500.87 799.41,500.38 800.24,499.41 C800.79,498.78 801.23,497.90 801.50,497.02 L803.10,497.02 L803.10,516.60 Z" fill="#000"/>
<path d="M815.99,516.60 L815.99,502.63 L811.65,502.63 L811.65,500.98 C813.46,500.87 814.70,500.38 815.53,499.41 C816.08,498.78 816.52,497.90 816.79,497.02 L818.39,497.02 L818.39,516.60 Z" fill="#000"/>
<path d="M831.28,516.60 L831.28,502.63 L826.94,502.63 L826.94,500.98 C828.75,500.87 829.99,500.38 830.82,499.41 C831.37,498.78 831.81,497.90 832.08,497.02 L833.68,497.02 L833.68,516.60 Z" fill="#000"/>
<text x="839.37" y="516.6" font-size="27.5" xml:space="preserve">8</text>
<text x="246.39" y="973.3" font-size="27.4" xml:space="preserve">-645</text>
<text x="404.89" y="973.3" font-size="27.4" xml:space="preserve">-640</text>
<text x="563.39" y="973.3" font-size="27.4" xml:space="preserve">-635</text>
<text x="648.49" y="967.6" font-size="27.4" xml:space="preserve">-645</text>
<text x="804.79" y="967.6" font-size="27.4" xml:space="preserve">-640</text>
<text x="511.2" y="554.0" font-size="26.2" text-anchor="start">Energy</text>
<text x="618.6" y="554.0" font-size="26.2" text-anchor="start">E -</text>
<text transform="translate(659.9,554.0) scale(1.15,1)" font-size="27.5" font-family="Liberation Serif">&#949;</text>
<text x="672.0" y="561.2" font-size="17.8" text-anchor="start">F</text>
<text x="687.6" y="554.0" font-size="26.7" text-anchor="start">[eV]</text>
<text x="523.1" y="1009.6" font-size="26.2" text-anchor="start">Energy</text>
<text x="630.5" y="1009.6" font-size="26.2" text-anchor="start">E -</text>
<text transform="translate(671.8,1009.6) scale(1.15,1)" font-size="27.5" font-family="Liberation Serif">&#949;</text>
<text x="683.9" y="1016.8" font-size="17.8" text-anchor="start">F</text>
<text x="699.5" y="1009.6" font-size="26.7" text-anchor="start">[eV]</text>
<text transform="translate(194.8,386.8) rotate(-90)" font-size="25.8">Intensity I(E)</text>
<text transform="translate(194.8,845.7) rotate(-90)" font-size="26.9">Intensity I (E)</text>
<text x="231.6" y="419.5" font-size="26.2" text-anchor="start">(a)</text>
<text x="654.5" y="429.7" font-size="26.2" text-anchor="start">(b)</text>
<text x="234.0" y="885.3" font-size="26.2" text-anchor="start">(c)</text>
<text x="661.6" y="889.7" font-size="26.2" text-anchor="start">(d)</text>
<text x="486.2" y="205.7" font-size="27.4">Ga 2p<tspan font-size="19" dy="6.7">3/2</tspan></text>
<text x="272.8" y="672.5" font-size="27.4">Mn 2p<tspan font-size="19" dy="6.6">3/2</tspan></text>
<text x="683.3" y="672.8" font-size="27.4">Mn 2p<tspan font-size="19" dy="6.6">3/2</tspan></text>
<text x="235.3" y="248.9" font-size="26.8" text-anchor="start">h</text>
<text transform="translate(250.0,248.9) scale(1.12,1)" font-size="29" font-family="Liberation Serif">&#957;</text>
<text x="272.4" y="248.9" font-size="26.8" text-anchor="start">[keV]</text>
<text x="343.1" y="248.9" font-size="26.8" text-anchor="start">;</text>
<text transform="translate(364.3,249.2) scale(1.3,1)" font-size="25.2" font-family="Liberation Serif">&#952;</text>
<line x1="235.0" y1="271.7" x2="285.7" y2="271.7" stroke="#000" stroke-width="2.7"/>
<text x="297.6" y="279.2" font-size="26.8" text-anchor="start">7.9</text>
<text x="344.0" y="279.2" font-size="26.8" text-anchor="start">;</text>
<path d="M373.02,279.20 L373.02,265.59 L368.79,265.59 L368.79,263.98 C370.56,263.87 371.76,263.39 372.57,262.45 C373.10,261.83 373.53,260.98 373.80,260.12 L375.35,260.12 L375.35,279.20 Z" fill="#000"/>
<text x="380.90" y="279.2" font-size="26.8" xml:space="preserve">&#176;</text>
<line x1="235" y1="301.8" x2="285" y2="301.8" stroke="#0535ff" stroke-width="3.4" stroke-dasharray="5.5 5.3"/>
<text x="297.6" y="309.6" font-size="26.8" text-anchor="start">3.0</text>
<text x="344.0" y="309.6" font-size="26.8" text-anchor="start">;</text>
<text x="365.0" y="309.6" font-size="26.8" text-anchor="start">5&#176;</text>
<line x1="235.0" y1="332.3" x2="285.7" y2="332.3" stroke="#059605" stroke-width="2.7"/>
<text x="297.6" y="339.9" font-size="26.8" text-anchor="start">3.0</text>
<text x="344.0" y="339.9" font-size="26.8" text-anchor="start">;</text>
<text x="357.9" y="339.9" font-size="26.8" text-anchor="start">60&#176;</text>
<text x="716.0" y="285.9" font-size="19.1" text-anchor="start">Ga oxide</text>
<line x1="785.40" y1="293.40" x2="794.81" y2="306.45" stroke="#000" stroke-width="1.4" stroke-linecap="round"/>
<polygon points="802.71,317.39 791.89,308.55 797.73,304.34" fill="#000" stroke="#000" stroke-width="0.7" stroke-linejoin="round"/>
<text x="505.1" y="652.3" font-size="21.6" text-anchor="start">well</text>
<text x="505.0" y="669.2" font-size="21.6" text-anchor="start">screened</text>
<line x1="506.20" y1="631.60" x2="496.58" y2="616.20" stroke="#000" stroke-width="1.4" stroke-linecap="round"/>
<polygon points="489.16,604.32 499.97,614.08 493.19,618.32" fill="#000" stroke="#000" stroke-width="0.7" stroke-linejoin="round"/>
<text x="302.9" y="729.2" font-size="21.6" text-anchor="start">poor</text>
<text x="301.5" y="750.0" font-size="21.6" text-anchor="start">screened</text>
<line x1="393.60" y1="735.40" x2="432.37" y2="739.15" stroke="#000" stroke-width="1.4" stroke-linecap="round"/>
<polygon points="446.80,740.55 432.00,742.94 432.74,735.37" fill="#000" stroke="#000" stroke-width="0.7" stroke-linejoin="round"/>
</svg>
</body></html>
